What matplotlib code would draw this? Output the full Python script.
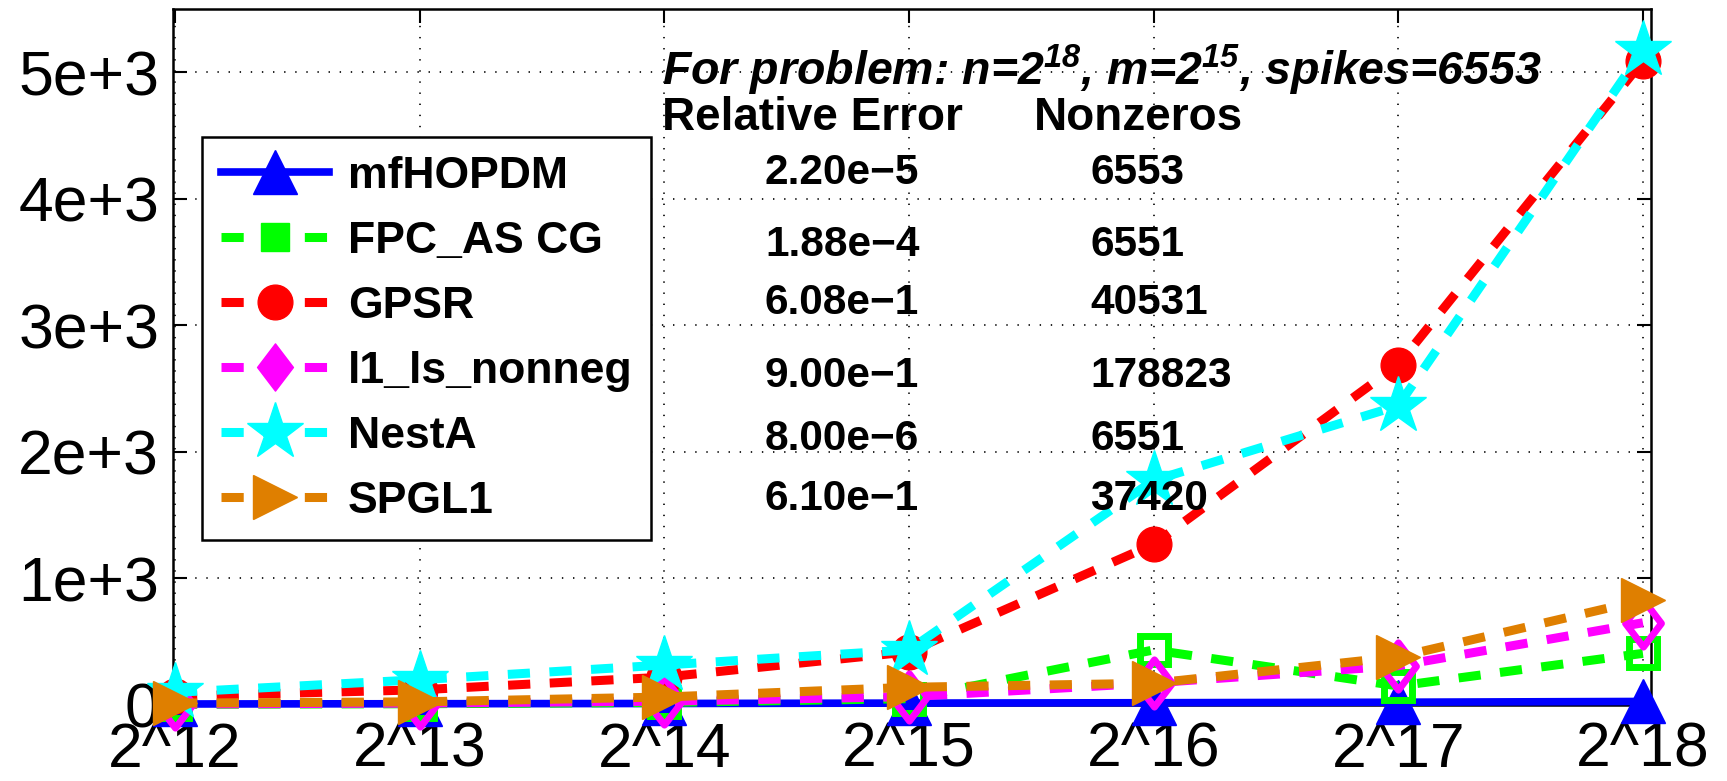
import matplotlib
matplotlib.use("Agg")
import matplotlib.pyplot as plt
from matplotlib.lines import Line2D
from matplotlib.path import Path

plt.rcParams['font.family'] = ['Liberation Sans', 'DejaVu Sans']
plt.rcParams['mathtext.fontset'] = 'custom'
plt.rcParams['mathtext.rm'] = 'Liberation Sans:bold:italic'
plt.rcParams['mathtext.it'] = 'Liberation Sans:bold:italic'
plt.rcParams['mathtext.bf'] = 'Liberation Sans:bold:italic'
plt.rcParams['mathtext.default'] = 'rm'
plt.rcParams['lines.scale_dashes'] = False

# ---------------- data ----------------
x_labels = ['2^12', '2^13', '2^14', '2^15', '2^16', '2^17', '2^18']
mfHOPDM = [8, 10, 12, 15, 18, 22, 28]
FPC_AS_CG = [5, 10, 20, 50, 435, 150, 408]
GPSR = [70, 120, 220, 420, 1270, 2690, 5090]
l1_ls_nonneg = [8, 15, 30, 66, 175, 310, 650]
NestA = [100, 200, 316, 435, 1775, 2365, 5175]
SPGL1 = [15, 25, 63, 140, 172, 380, 830]

series_names = ['mfHOPDM', 'FPC_AS CG', 'GPSR', 'l1_ls_nonneg', 'NestA', 'SPGL1']
rel_errors = ['2.20e\u22125', '1.88e\u22124', '6.08e\u22121', '9.00e\u22121', '8.00e\u22126', '6.10e\u22121']
nonzeros = ['6553', '6551', '40531', '178823', '6551', '37420']
y_ticks = [0, 1000, 2000, 3000, 4000, 5000]
y_tick_labels = ['0', '1e+3', '2e+3', '3e+3', '4e+3', '5e+3']

# ---------------- figure ----------------
W, H = 1727, 781
fig = plt.figure(figsize=(W / 100, H / 100), dpi=100)
ax_l, ax_r, ax_t, ax_b = 173, 1651, 9, 705
ax = fig.add_axes([ax_l / W, 1 - ax_b / H, (ax_r - ax_l) / W, (ax_b - ax_t) / H])


def fx(px):
    return (px - ax_l) / (ax_r - ax_l)


def fy(py):
    return 1 - (py - ax_t) / (ax_b - ax_t)


xs = list(range(1, len(x_labels) + 1))

diamond = Path([(0, 1), (0.76, 0), (0, -1), (-0.76, 0), (0, 1)],
               [Path.MOVETO, Path.LINETO, Path.LINETO, Path.LINETO, Path.CLOSEPOLY])

orange = '#DF7F00'
dash = (16, 14)
lw = 6.5
styles = [
    dict(data=mfHOPDM, color='#0000FF', ls='-', marker='^', ms=32, mfc='#0000FF', mew=1, lw=5.5),
    dict(data=FPC_AS_CG, color='#00FF00', ls=(0, dash), marker='s', ms=20, mfc='none', mew=5, lw=lw),
    dict(data=GPSR, color='#FF0000', ls=(0, dash), marker='o', ms=25, mfc='#FF0000', mew=1, lw=lw),
    dict(data=l1_ls_nonneg, color='#FF00FF', ls=(0, dash), marker=diamond, ms=34, mfc='none', mew=5, lw=lw),
    dict(data=NestA, color='#00FFFF', ls=(0, dash), marker='*', ms=43, mfc='#00FFFF', mew=1, lw=lw),
    dict(data=SPGL1, color=orange, ls=(0, dash), marker='>', ms=32, mfc=orange, mew=1, lw=lw),
]

handles = []
for name, st in zip(series_names, styles):
    ax.plot(xs, st['data'], color=st['color'], linestyle=st['ls'], linewidth=st['lw'],
            marker=st['marker'], markersize=st['ms'], markerfacecolor=st['mfc'],
            markeredgecolor=st['color'], markeredgewidth=st['mew'], clip_on=False,
            zorder=3)
    handles.append(Line2D([0], [0], color=st['color'], linestyle=st['ls'], linewidth=st['lw'],
                          marker=st['marker'], markersize=st['ms'],
                          markerfacecolor=st['color'], markeredgecolor=st['color'],
                          markeredgewidth=1, label=name))

ax.set_xlim(0.992, 7.033)
ax.set_ylim(0, 5500)
ax.set_xticks(xs)
ax.set_xticklabels(x_labels)
ax.set_yticks(y_ticks)
ax.set_yticklabels(y_tick_labels)
ax.tick_params(axis='both', labelsize=45, direction='in', length=10, width=1.5,
               top=True, right=True, color='black')
ax.tick_params(axis='y', pad=10)
ax.tick_params(axis='x', pad=11.5)
ax.grid(True, linestyle=(0, (1, 7)), color='black', linewidth=1.2)
for sp in ax.spines.values():
    sp.set_linewidth(1.8)
    sp.set_color('black')

leg = ax.legend(handles=handles, loc='upper left', bbox_to_anchor=(fx(202), fy(137)),
                prop={'family': 'Liberation Sans', 'weight': 'bold', 'size': 32},
                handlelength=2.43, handletextpad=0.43, labelspacing=0.54,
                borderpad=0.42, borderaxespad=0, frameon=True, fancybox=False,
                framealpha=1, edgecolor='black', numpoints=1)
leg.get_frame().set_linewidth(1.8)
leg.set_zorder(5)

tr = ax.transAxes
ax.text(fx(662), fy(85), r'For problem: n=2$^{18}$, m=2$^{15}$, spikes=6553',
        transform=tr, fontsize=33.5, fontweight='bold', style='italic',
        ha='left', va='baseline', zorder=6)
ax.text(fx(662), fy(130), 'Relative Error', transform=tr, fontsize=33, fontweight='bold',
        ha='left', va='baseline', zorder=6)
ax.text(fx(1034), fy(130), 'Nonzeros', transform=tr, fontsize=33, fontweight='bold',
        ha='left', va='baseline', zorder=6)
row_base = [184, 256, 314, 387, 450, 510]
for yy, re, nz in zip(row_base, rel_errors, nonzeros):
    ax.text(fx(765), fy(yy), re, transform=tr, fontsize=30.5, fontweight='bold',
            ha='left', va='baseline', zorder=6)
    ax.text(fx(1090), fy(yy), nz, transform=tr, fontsize=30.5, fontweight='bold',
            ha='left', va='baseline', zorder=6)

fig.savefig('out.png', dpi=100)
